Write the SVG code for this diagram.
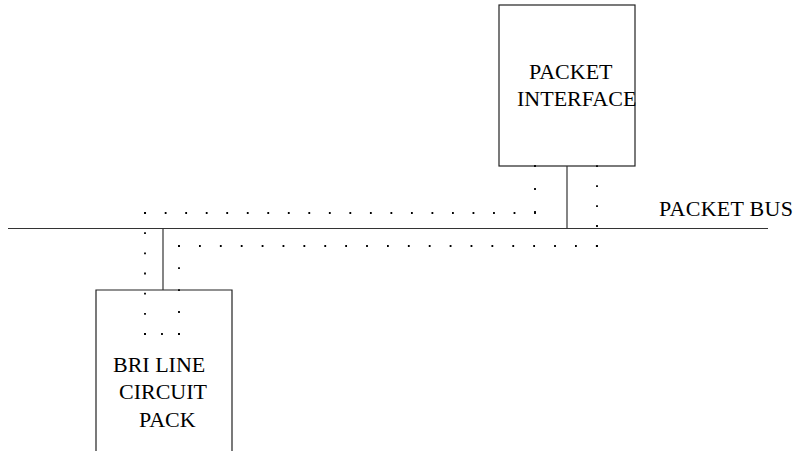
<svg xmlns="http://www.w3.org/2000/svg" width="800" height="451" viewBox="0 0 800 451">
<style>
.box{fill:none;stroke:#222;stroke-width:1.2}
.line{fill:none;stroke:#333;stroke-width:1.2}
.lbl{font-size:22px;fill:#000}
.dots{fill:none;stroke:#000;stroke-width:1.8;stroke-linecap:square}
</style>
<rect width="800" height="451" fill="#fff"/>
<g font-family="Liberation Serif, Times New Roman, serif">
<g id="packet-bus">
<line class="line" x1="8" y1="228.5" x2="768" y2="228.5"/>
<text class="lbl" x="659" y="216" font-size="21" textLength="134">PACKET BUS</text>
</g>
<g id="packet-interface">
<rect class="box" x="499" y="5" width="136" height="161"/>
<text class="lbl" x="529" y="79">PACKET</text>
<text class="lbl" x="517" y="106">INTERFACE</text>
</g>
<g id="bri-line-circuit-pack">
<path class="box" d="M96,451 V290 H232 V451"/>
<text class="lbl" x="113" y="372">BRI LINE</text>
<text class="lbl" x="119" y="399">CIRCUIT</text>
<text class="lbl" x="139" y="427">PACK</text>
</g>
</g>
<g id="connectors">
<line class="line" x1="567" y1="166" x2="567" y2="228.5"/>
<line class="line" x1="163" y1="228.5" x2="163" y2="290"/>
<line class="dots" x1="535" y1="166" x2="535" y2="212" stroke-dasharray="0 22.98"/>
<line class="dots" x1="535" y1="213" x2="145" y2="213" stroke-dasharray="0 20.52"/>
<line class="dots" x1="145" y1="213" x2="145" y2="334" stroke-dasharray="0 20.16"/>
<line class="dots" x1="145" y1="334" x2="179" y2="334" stroke-dasharray="0 16.98"/>
<line class="dots" x1="179" y1="334" x2="179" y2="246" stroke-dasharray="0 21.98"/>
<line class="dots" x1="179" y1="246" x2="597" y2="246" stroke-dasharray="0 20.89"/>
<line class="dots" x1="597" y1="246" x2="597" y2="166" stroke-dasharray="0 19.98"/>
</g>
</svg>
